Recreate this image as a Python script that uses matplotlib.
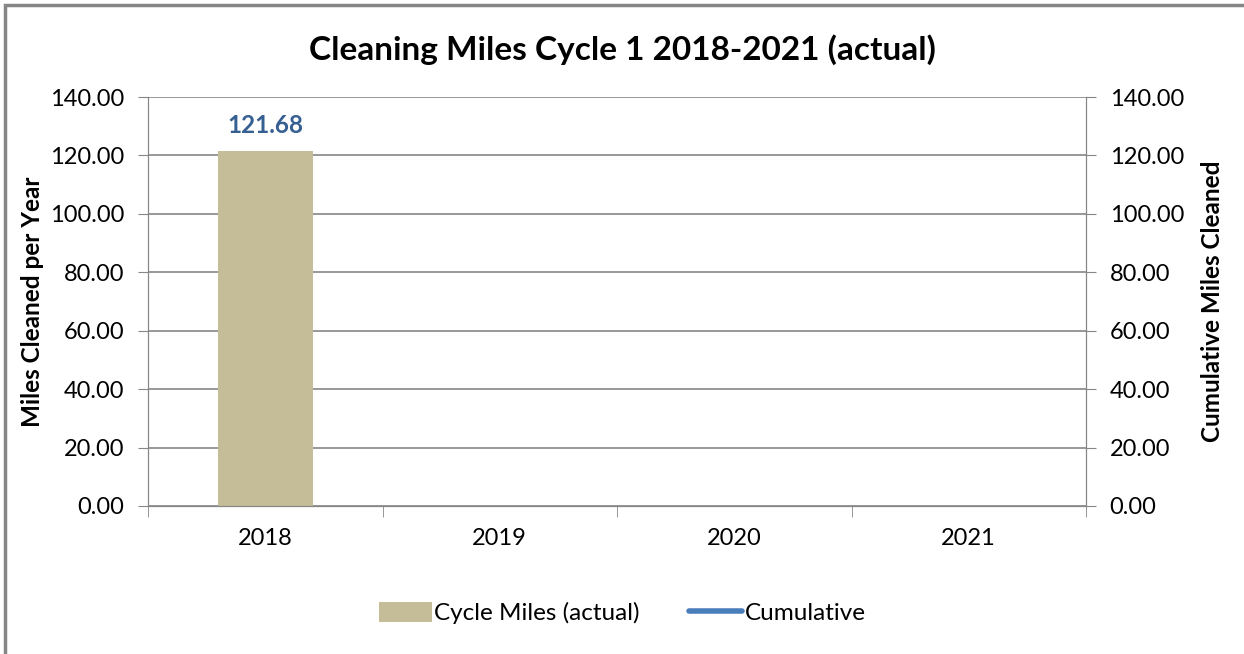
"""
Cleaning miles bar chart with cumulative line (Excel-style)
"""
import matplotlib
matplotlib.use("Agg")
import matplotlib.pyplot as plt
import numpy as np
from matplotlib.patches import Rectangle

years = ["2018", "2019", "2020", "2021"]
cycle_miles = [121.68, np.nan, np.nan, np.nan]
cumulative = [121.68, np.nan, np.nan, np.nan]

plt.rcParams["font.family"] = ["Lato", "DejaVu Sans"]

GRAY = "#868686"
BAR = "#C4BD97"
LINE = "#4A7EBB"
LABEL = "#376092"

fig = plt.figure(figsize=(12.44, 6.54), dpi=100)
ax = fig.add_axes([148 / 1244, 1 - 506 / 654, (1086 - 148) / 1244, (506 - 97) / 654])
ax2 = ax.twinx()

x = np.arange(len(years))
bars = ax.bar(x, cycle_miles, width=0.405, color=BAR, label="Cycle Miles (actual)", zorder=3)
line, = ax2.plot(x, cumulative, color=LINE, linewidth=4, solid_capstyle="round",
                 label="Cumulative", zorder=4)

# data label on the bar
for xi, v in zip(x, cycle_miles):
    if not np.isnan(v):
        ax.annotate(f"{v:.2f}", (xi, v), xytext=(0, 10), textcoords="offset points",
                    ha="center", va="bottom", fontsize=17.5, fontweight="bold", color=LABEL)

for a in (ax, ax2):
    a.set_ylim(0, 140)
    a.set_yticks(np.arange(0, 141, 20))
    a.set_yticklabels([f"{t:.2f}" for t in np.arange(0, 141, 20)])
    a.tick_params(axis="y", length=7, color=GRAY, labelsize=17, pad=10)
    for s in a.spines.values():
        s.set_color(GRAY)
    a.spines["top"].set_visible(False)

ax.set_xlim(-0.5, len(years) - 0.5)
ax.set_xticks(x)
ax.set_xticklabels(years)
ax.set_xticks(np.arange(-0.5, len(years)), minor=True)
ax.tick_params(axis="x", which="major", length=0, labelsize=17, pad=16)
ax.tick_params(axis="x", which="minor", length=8, color=GRAY)

ax.yaxis.grid(True, color=GRAY, linewidth=1.2, zorder=0)
ax.set_axisbelow(True)

ax.set_ylabel("Miles Cleaned per Year", fontsize=17.5, fontweight="bold", labelpad=4)
ax2.set_ylabel("Cumulative Miles Cleaned", fontsize=17.5, fontweight="bold", labelpad=12)

fig.suptitle("Cleaning Miles Cycle 1 2018-2021 (actual)", fontsize=24, fontweight="bold",
             y=1 - 50 / 654, va="center")

fig.legend(handles=[bars, line], loc="center", bbox_to_anchor=(0.5, 1 - 613 / 654),
           ncol=2, frameon=False, fontsize=17.5, handlelength=2.2, handleheight=0.9,
           columnspacing=2.0, handletextpad=0.1)

# outer chart border (right/bottom cropped off in the original)
fig.patches.append(Rectangle((5 / 1244, -0.1), 1.2, 1 - 5 / 654 + 0.1,
                             transform=fig.transFigure, fill=False,
                             edgecolor=GRAY, linewidth=2.5))

fig.savefig("out.png", dpi=100)
